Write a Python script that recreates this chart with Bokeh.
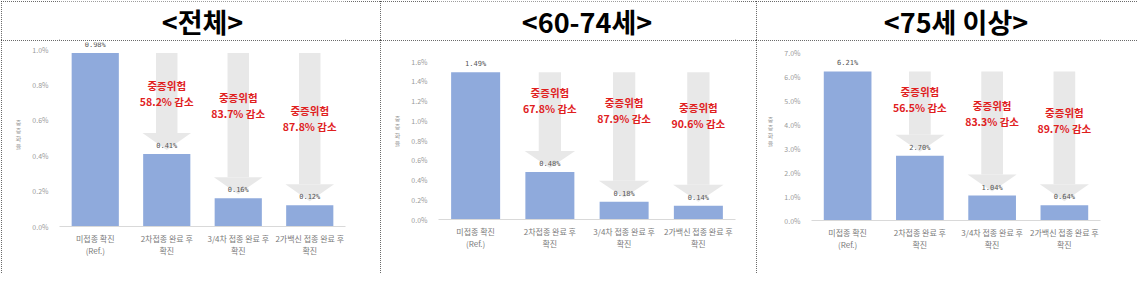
from bokeh.plotting import figure
from bokeh.models import FactorRange, Range1d, FixedTicker, PrintfTickFormatter, Spacer
from bokeh.layouts import row, column
from bokeh.core.properties import value
from bokeh.embed import file_html
from bokeh.resources import INLINE

# ---------------- data ----------------
titles = ["<전체>", "<60-74세>", "<75세 이상>"]
categories = ["미접종 확진\n(Ref.)", "2차접종 완료 후\n확진", "3/4차 접종 완료 후\n확진", "2가백신 접종 완료 후\n확진"]
values_all = [0.98, 0.41, 0.16, 0.12]
values_60_74 = [1.49, 0.48, 0.18, 0.14]
values_75 = [6.21, 2.70, 1.04, 0.64]
ticks_all = [0.0, 0.2, 0.4, 0.6, 0.8, 1.0]
ticks_60_74 = [0.0, 0.2, 0.4, 0.6, 0.8, 1.0, 1.2, 1.4, 1.6]
ticks_75 = [0.0, 1.0, 2.0, 3.0, 4.0, 5.0, 6.0, 7.0]
reductions_all = ["58.2%", "83.7%", "87.8%"]
reductions_60_74 = ["67.8%", "87.9%", "90.6%"]
reductions_75 = ["56.5%", "83.3%", "89.7%"]
risk_label = "중증위험"
decrease_word = "감소"
y_label = "중증화율"

# ---------------- style / layout ----------------
FONT = "Noto Sans CJK KR"
BAR = "#8faadc"
ARROW = "#e8e8e8"
RED = "#e0201e"
BORDER = {"outline": "1px dotted #3a3a3a", "outline-offset": "-1px"}
CH_H = 233

panels = [
    dict(title=titles[0], values=values_all, ticks=ticks_all, red=reductions_all,
         width=379, mbl=58, mbr=35, zero=186, top=9, ann=[0.754, 0.684, 0.612]),
    dict(title=titles[1], values=values_60_74, ticks=ticks_60_74, red=reductions_60_74,
         width=376, mbl=58, mbr=21, zero=179, top=21, ann=[0.756, 0.687, 0.661]),
    dict(title=titles[2], values=values_75, ticks=ticks_75, red=reductions_75,
         width=381, mbl=55, mbr=37, zero=180, top=12, ann=[0.723, 0.634, 0.595]),
]


def make_header(cfg):
    h = figure(width=cfg["width"], height=39, x_range=Range1d(0, 1), y_range=Range1d(0, 1),
               x_axis_type=None, y_axis_type=None, min_border=0, toolbar_location=None,
               output_backend="svg", outline_line_color=None, styles=BORDER)
    h.grid.visible = False
    h.text(x=[0.5], y=[0.5], text=[cfg["title"]], text_align="center", text_baseline="middle",
           text_font=value(FONT), text_font_style="bold", text_font_size="27px", text_color="black")
    return h


def make_chart(cfg):
    vals = cfg["values"]
    ticks = cfg["ticks"]
    top_tick = ticks[-1]
    ppu = (cfg["zero"] - cfg["top"]) / top_tick
    y_end = (cfg["zero"] - 2) / ppu
    p = figure(width=cfg["width"], height=CH_H,
               x_range=FactorRange(factors=categories, range_padding=0),
               y_range=Range1d(0, y_end), output_backend="svg", toolbar_location=None,
               min_border_left=cfg["mbl"], min_border_right=cfg["mbr"], min_border_top=2,
               min_border_bottom=CH_H - cfg["zero"], outline_line_color=None,
               background_fill_color="white", border_fill_color="white", styles=BORDER)
    p.grid.visible = False

    # arrows (grey), from the reference bar top down to each bar
    for i in range(1, len(vals)):
        c = i + 0.5
        tip = vals[i] + 4 / ppu
        base = tip + 17 / ppu
        p.vbar(x=[categories[i]], bottom=[base], top=[vals[0]], width=0.3,
               fill_color=ARROW, line_color=None)
        p.patches(xs=[[c - 0.34, c + 0.34, c]], ys=[[base, base, tip]],
                  fill_color=ARROW, line_color=None)

    p.vbar(x=categories, top=vals, width=0.66, fill_color=BAR, line_color=None)
    p.text(x=categories, y=vals, text=[f"{v:.2f}%" for v in vals], text_align="center",
           text_baseline="middle", y_offset=-8, text_font=value("DejaVu Sans Mono"),
           text_font_size="7px", text_color="#555555")

    ann_y = [a * top_tick for a in cfg["ann"]]
    p.text(x=categories[1:], y=ann_y, text=[risk_label] * 3, text_align="center",
           text_baseline="middle", y_offset=-8, text_font=value(FONT), text_font_style="bold",
           text_font_size="10.5px", text_color=RED)
    p.text(x=categories[1:], y=ann_y, text=[f"{r} {decrease_word}" for r in cfg["red"]],
           text_align="center", text_baseline="middle", y_offset=8, text_font=value(FONT),
           text_font_style="bold", text_font_size="10.5px", text_color=RED)

    ya = p.yaxis[0]
    ya.ticker = FixedTicker(ticks=ticks)
    ya.formatter = PrintfTickFormatter(format="%.1f%%")
    ya.axis_line_color = None
    ya.major_tick_line_color = None
    ya.minor_tick_line_color = None
    ya.major_label_text_font = FONT
    ya.major_label_text_font_size = "7px"
    ya.major_label_text_color = "#9a9a9a"
    ya.major_label_standoff = 5
    ya.axis_label = "\n".join(y_label)
    ya.axis_label_orientation = "horizontal"
    ya.axis_label_text_font = FONT
    ya.axis_label_text_font_size = "6px"
    ya.axis_label_text_font_style = "normal"
    ya.axis_label_text_color = "#9a9a9a"
    ya.axis_label_text_line_height = 0.9
    ya.axis_label_standoff = 8

    xa = p.xaxis[0]
    xa.axis_line_color = "#d9d9d9"
    xa.axis_line_width = 1
    xa.major_tick_line_color = None
    xa.minor_tick_line_color = None
    xa.major_label_text_font = FONT
    xa.major_label_text_font_size = "8px"
    xa.major_label_text_color = "#7a7a7a"
    xa.major_label_text_line_height = 1.1
    xa.major_label_standoff = 0
    return p


cols = [column(make_header(cfg), make_chart(cfg), spacing=0) for cfg in panels]
layout = column(Spacer(width=1, height=1),
                row(Spacer(width=1, height=1), *cols, spacing=0), spacing=0)

open("out.html", "w").write(file_html(layout, INLINE))
